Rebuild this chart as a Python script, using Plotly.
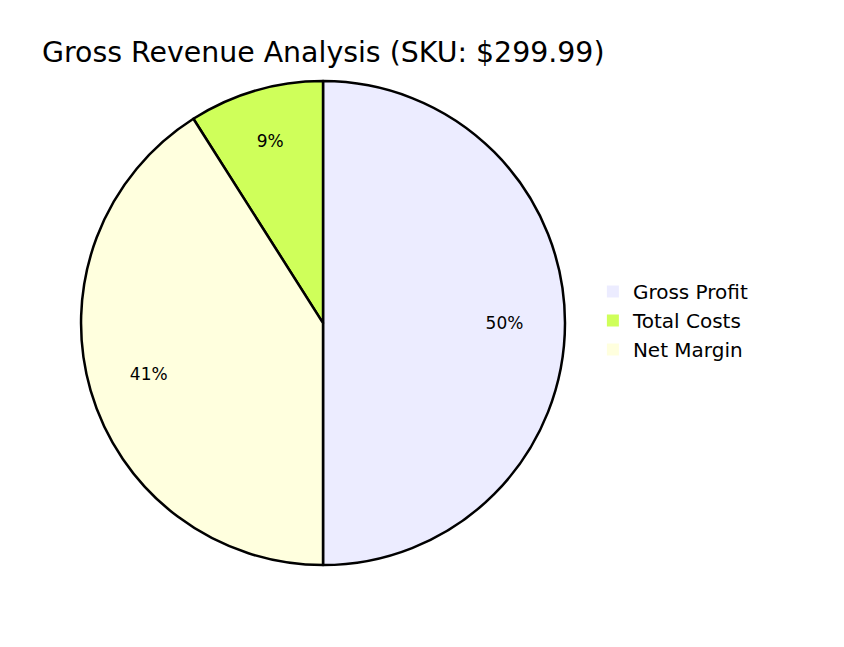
import plotly.graph_objects as go

TEXT = "#000000"

labels = ["Gross Profit", "Total Costs", "Net Margin"]
values = [50, 9, 41]
colors = ["#ECECFF", "#CFFF5A", "#FFFFDE"]

DOMAIN = dict(x=[0.0865, 0.660], y=[0.139, 0.887])
pie_common = dict(
    labels=labels, values=values,
    sort=False, direction="counterclockwise", rotation=0,
    domain=DOMAIN,
)

fig = go.Figure()
# Fill layer, gives the borderless legend swatches
fig.add_trace(go.Pie(
    **pie_common,
    marker=dict(colors=colors, line=dict(width=0)),
    textinfo="none", hoverinfo="skip",
))
# Outline
fig.add_trace(go.Pie(
    **pie_common,
    marker=dict(colors=colors, line=dict(color="#000000", width=2.5)),
    textinfo="none", showlegend=False,
    hoverinfo="label+value",
))
# Transparent ring, only to push the percent labels outward
fig.add_trace(go.Pie(
    **pie_common,
    hole=0.5,
    marker=dict(colors=["rgba(0,0,0,0)"] * len(labels), line=dict(width=0)),
    texttemplate="%{percent:.0%}",
    textposition="inside", insidetextorientation="horizontal",
    textfont=dict(size=17, color=TEXT),
    showlegend=False, hoverinfo="skip",
))

fig.update_layout(
    width=844, height=647,
    paper_bgcolor="#ffffff", plot_bgcolor="#ffffff",
    font=dict(family="DejaVu Sans", color=TEXT, size=20),
    title=dict(
        text="Gross Revenue Analysis (SKU: $299.99)",
        x=0.0403, xanchor="left", xref="paper",
        y=0.932, yanchor="middle",
        font=dict(size=28.4, color=TEXT),
    ),
    legend=dict(
        x=0.693, y=0.517, xanchor="left", yanchor="middle",
        font=dict(size=20, color=TEXT),
        traceorder="normal",
    ),
    margin=dict(l=0, r=0, t=0, b=0),
)
fig.write_html("out.html")
